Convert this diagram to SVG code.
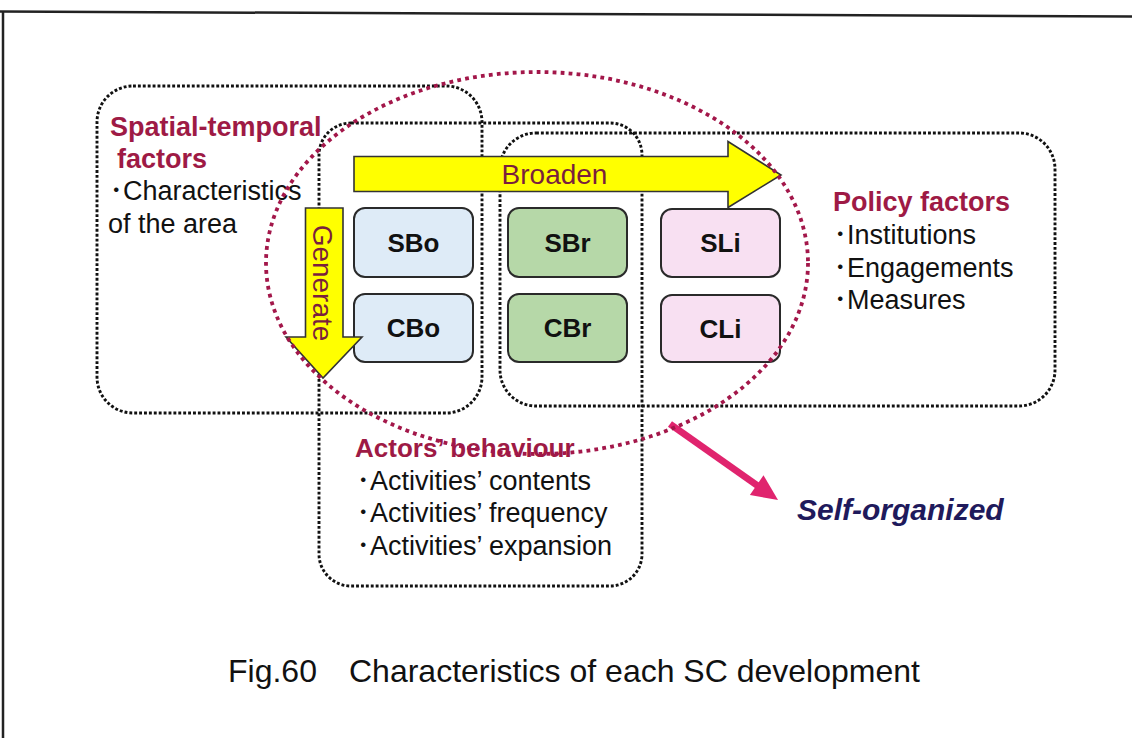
<svg xmlns="http://www.w3.org/2000/svg" width="1132" height="738" viewBox="0 0 1132 738">
<style>
.frame{stroke:#222;stroke-width:2.5;fill:none}
.region{fill:none;stroke:#111;stroke-width:2.9;stroke-dasharray:2.9 2.0}
.ell{fill:none;stroke:#a3174a;stroke-width:3.8;stroke-dasharray:3.8 4.2}
.node rect{stroke:#2a2a2a;stroke-width:2}
.blue{fill:#deebf7}
.green{fill:#b6d8a8}
.pink{fill:#f8e0f2}
.lbl{font-family:"Liberation Sans",Arial,sans-serif;font-weight:bold;font-size:26px;fill:#111;text-anchor:middle}
.head{font-family:"Liberation Sans",Arial,sans-serif;font-weight:bold;font-size:27px;fill:#9e1a45}
.body{font-family:"Liberation Sans","Noto Sans CJK JP",Arial,sans-serif;font-size:27px;fill:#111}
.arrowtxt{font-family:"Liberation Sans",Arial,sans-serif;font-size:28px;fill:#7a1f3d;text-anchor:middle}
.yarrow{fill:#ffff00;stroke:#333;stroke-width:1.6;stroke-linejoin:miter}
.cap{font-family:"Liberation Sans",Arial,sans-serif;font-size:32px;fill:#111}
</style>
<rect x="0" y="0" width="1132" height="738" fill="#ffffff"/>
<g id="frame">
<path class="frame" d="M0 11.5 L1132 16.5"/>
<path class="frame" d="M3 11 L3 738"/>
</g>
<g id="spatial-temporal">
<rect class="region" x="97" y="86" width="385" height="327" rx="36" ry="36"/>
<text class="head" x="110" y="136">Spatial-temporal</text>
<text class="head" x="117" y="168">factors</text>
<text class="body" x="109.5" y="200">･Characteristics</text>
<text class="body" x="108" y="233">of the area</text>
</g>
<g id="actors">
<rect class="region" x="319" y="123" width="323" height="463" rx="32" ry="32"/>
<text class="head" x="355" y="457" style="font-size:26px">Actors’ behaviour</text>
<text class="body" x="356.5" y="490">･Activities’ contents</text>
<text class="body" x="356.5" y="522">･Activities’ frequency</text>
<text class="body" x="356.5" y="555">･Activities’ expansion</text>
</g>
<g id="policy">
<rect class="region" x="500" y="133" width="555" height="273" rx="36" ry="36"/>
<text class="head" x="833" y="211">Policy factors</text>
<text class="body" x="833.5" y="244">･Institutions</text>
<text class="body" x="833.5" y="277">･Engagements</text>
<text class="body" x="833.5" y="309">･Measures</text>
</g>
<g id="SBo" class="node"><rect class="blue" x="354" y="208" width="119" height="69" rx="11"/><text class="lbl" x="413.5" y="252">SBo</text></g>
<g id="CBo" class="node"><rect class="blue" x="354" y="294" width="119" height="68" rx="11"/><text class="lbl" x="413.5" y="337">CBo</text></g>
<g id="SBr" class="node"><rect class="green" x="508" y="208" width="119" height="69" rx="11"/><text class="lbl" x="567.5" y="252">SBr</text></g>
<g id="CBr" class="node"><rect class="green" x="508" y="294" width="119" height="68" rx="11"/><text class="lbl" x="567.5" y="337">CBr</text></g>
<g id="SLi" class="node"><rect class="pink" x="661" y="209" width="119" height="68" rx="11"/><text class="lbl" x="720.5" y="252">SLi</text></g>
<g id="CLi" class="node"><rect class="pink" x="661" y="295" width="119" height="67" rx="11"/><text class="lbl" x="720.5" y="338">CLi</text></g>
<g id="connectors">
<g id="broaden">
<polygon class="yarrow" points="354,156.5 728,156.5 728,141.5 781,175 728,207.5 728,191.5 354,191.5"/>
<text class="arrowtxt" x="554.5" y="184">Broaden</text>
</g>
<g id="generate">
<polygon class="yarrow" points="305.5,208 343,208 343,337 362,337 323,378 286,337 305.5,337"/>
<text class="arrowtxt" transform="translate(313,283) rotate(90)" x="0" y="0">Generate</text>
</g>
<g id="self-organized-arrow">
<line x1="670" y1="424" x2="758" y2="486" stroke="#e0246e" stroke-width="7"/>
<polygon points="778,500 749.9,495 763.5,475.3" fill="#e0246e"/>
</g>
</g>
<g id="sc-ellipse">
<ellipse class="ell" cx="537" cy="263" rx="271" ry="191"/>
</g>
<g id="self-organized">
<text x="797" y="520" style="font-family:'Liberation Sans',Arial,sans-serif;font-weight:bold;font-style:italic;font-size:30px;fill:#1f1a5c">Self-organized</text>
</g>
<g id="caption">
<text class="cap"><tspan x="228" y="682">Fig.60</tspan><tspan x="349" y="682">Characteristics of each SC development</tspan></text>
</g>
</svg>
